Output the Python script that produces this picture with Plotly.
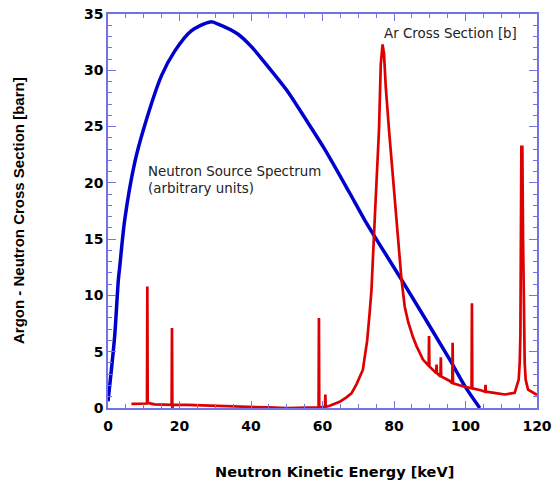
import plotly.graph_objects as go

# Neutron source spectrum (arbitrary units)
src_energy = [0, 0.95, 1.87, 2.9, 3.27, 4.67, 7.47, 10.07, 14.94, 18.66, 23.3, 28.7,
              30.8, 36.4, 40.1, 43.8, 50.3, 55.0, 60.6, 67.6, 71.8, 82.1, 95.6, 100.0, 104.0]
src_value = [0.6, 3.4, 6.4, 11.4, 12.5, 16.7, 21.8, 24.9, 29.5, 31.7, 33.5, 34.3,
             34.1, 33.2, 32.1, 30.7, 28.1, 25.8, 23.0, 19.1, 16.7, 11.4, 4.3, 1.85, 0.0]

# Ar cross section [b]
ar_energy = [6.55, 10.9, 11.0, 11.1, 13, 17.8, 17.9, 18.0, 18.2, 22, 26, 32, 40, 45, 50,
             55, 58.9, 59.0, 59.1, 60.7, 60.8, 60.9, 62, 64.8, 66.7, 68.1, 69.5, 70.4,
             71.3, 71.8, 72.5, 73.2, 73.7, 74.6, 75.8, 76.3, 76.8, 77.2, 77.7, 78.6,
             80.0, 81.1, 82.1, 83.0, 84.0, 85.3, 86.3, 88.1,
             89.7, 89.8, 89.9, 91.8, 91.9, 92.0, 93.0, 93.1, 93.2, 95.6, 96.3, 96.4,
             96.5, 99, 101.7, 101.8, 101.9, 104, 105.5, 105.6, 105.7, 108, 111, 113.76,
             114.88, 115.16, 115.35, 115.63, 115.9, 116.1, 116.3, 116.56, 116.84, 117.5,
             119.8, 120]
ar_xs = [0.37, 0.4, 10.8, 0.45, 0.32, 0.27, 7.1, 0.0, 0.28, 0.27, 0.22, 0.15, 0.1, 0.05,
         0.0, 0.0, 0.05, 8.0, 0.05, 0.1, 1.2, 0.1, 0.2, 0.55, 0.95, 1.3, 2.1, 2.7,
         3.4, 4.5, 6.0, 8.5, 10.5, 16.7, 24.7, 30.5, 32.3, 31.5, 28.5, 24.7,
         19.5, 15.8, 11.4, 9.0, 7.6, 6.3, 5.5, 4.3,
         3.75, 6.4, 3.7, 3.1, 3.86, 3.1, 2.8, 4.5, 2.8, 2.4, 2.2, 5.8,
         2.2, 1.95, 1.75, 9.3, 1.75, 1.6, 1.45, 2.05, 1.45, 1.35, 1.2, 1.35,
         2.53, 4.0, 6.4, 23.2, 23.2, 15.0, 6.4, 4.0, 2.5, 1.64,
         1.2, 1.16]

x_ticks = [0, 20, 40, 60, 80, 100, 120]
y_ticks = [0, 5, 10, 15, 20, 25, 30, 35]

axis_color = "#7373e6"
sans = "Liberation Sans, Arial, sans-serif"
wide = "DejaVu Sans, Verdana, sans-serif"

fig = go.Figure()
fig.add_trace(go.Scatter(x=src_energy, y=src_value, mode="lines",
                         line=dict(color="#0000cc", width=3.5, shape="spline", smoothing=0.8),
                         showlegend=False, hoverinfo="skip"))
fig.add_trace(go.Scatter(x=ar_energy, y=ar_xs, mode="lines",
                         line=dict(color="#dd0000", width=2.7),
                         showlegend=False, hoverinfo="skip"))

fig.add_annotation(x=76.75, y=33.3, text="Ar Cross Section [b]", showarrow=False,
                   xanchor="left", yanchor="middle",
                   font=dict(family=wide, size=13.4, color="#222222"))
fig.add_annotation(x=10.7, y=20.25, text="Neutron Source Spectrum<br>(arbitrary units)",
                   showarrow=False, xanchor="left", yanchor="middle", align="left",
                   font=dict(family=wide, size=13.4, color="#222222"))

# axis titles
fig.add_annotation(x=0.5, y=0, xref="paper", yref="paper", xshift=12, yshift=-64,
                   text="Neutron Kinetic Energy [keV]", showarrow=False,
                   xanchor="center", yanchor="middle",
                   font=dict(family=wide, size=14.5, color="black", weight="bold"))
fig.add_annotation(x=0, y=0.5, xref="paper", yref="paper", xshift=-90,
                   text="Argon - Neutron Cross Section [barn]", showarrow=False,
                   textangle=-90, xanchor="center", yanchor="middle",
                   font=dict(family=sans, size=15, color="black", weight="bold"))

fig.update_layout(
    width=552, height=480,
    margin=dict(l=108, r=15, t=14, b=72),
    paper_bgcolor="white", plot_bgcolor="white",
    font=dict(family=sans, color="black"),
    xaxis=dict(range=[0, 120], tickvals=x_ticks, ticks="inside", ticklen=7,
               tickcolor=axis_color, tickwidth=1, showline=True, linecolor=axis_color,
               linewidth=1.5, mirror="allticks", showgrid=False, zeroline=False,
               automargin=False, ticklabelstandoff=4, ticklabeloverflow="allow",
               tickfont=dict(family=wide, size=14, color="black", weight="bold"),
               minor=dict(dtick=5, ticks="inside", ticklen=4, tickcolor=axis_color, showgrid=False)),
    yaxis=dict(range=[0, 35], tickvals=y_ticks, ticks="inside", ticklen=8,
               tickcolor=axis_color, tickwidth=1, showline=True, linecolor=axis_color,
               linewidth=1.5, mirror="allticks", showgrid=False, zeroline=False,
               automargin=False, ticklabeloverflow="allow",
               tickfont=dict(family=wide, size=14, color="black", weight="bold"),
               minor=dict(dtick=1, ticks="inside", ticklen=4, tickcolor=axis_color, showgrid=False)),
)

fig.write_html("out.html", config={"displayModeBar": False},
               post_script="document.body.style.margin='0';")
